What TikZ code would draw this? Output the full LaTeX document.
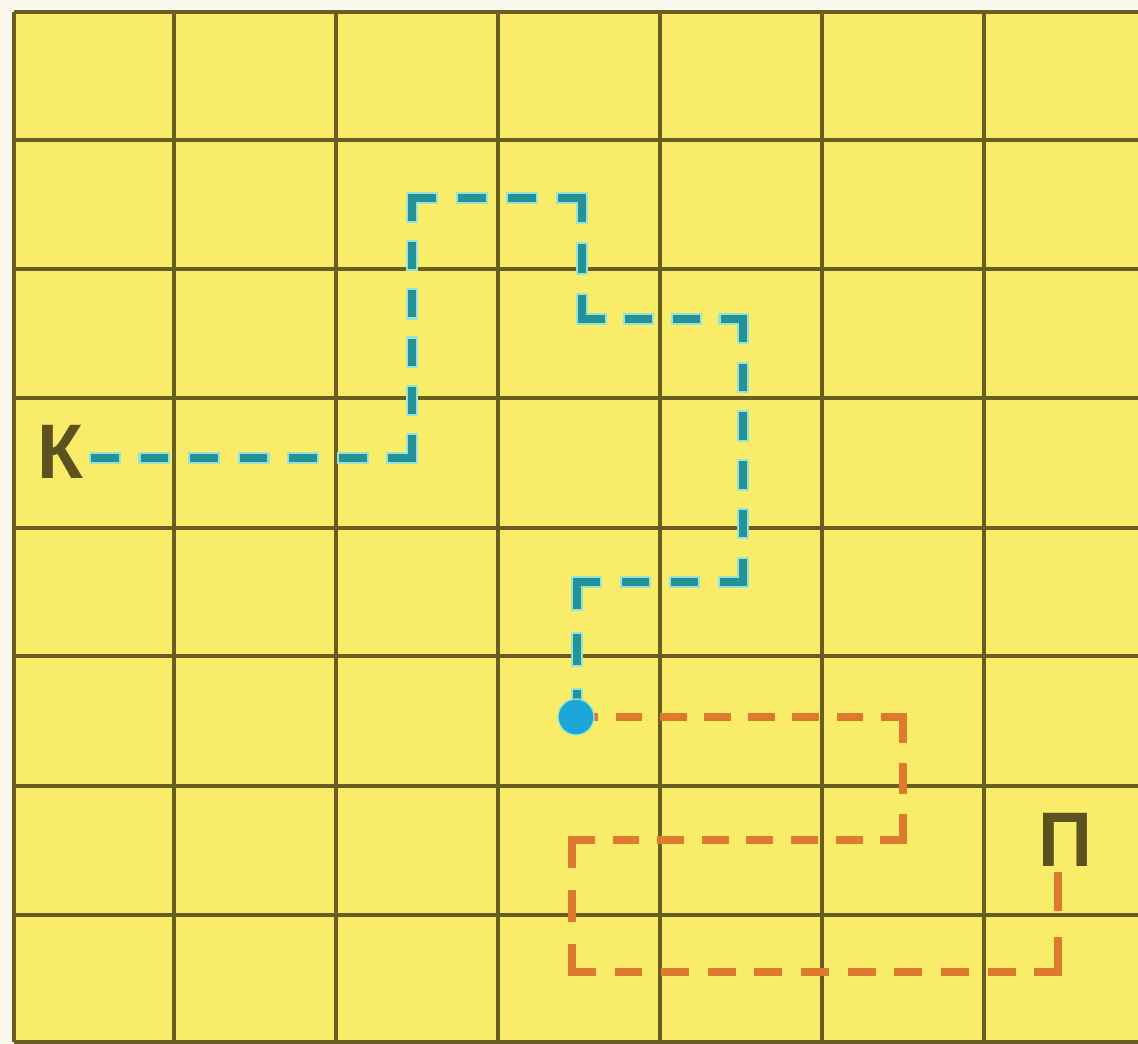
\documentclass[tikz,border=0pt]{standalone}
\usepackage{fontspec}
\setmainfont{Liberation Sans}
\usetikzlibrary{calc}
\definecolor{paper}{RGB}{250,248,236}
\definecolor{cellyellow}{RGB}{249,236,104}
\definecolor{gridolive}{RGB}{104,94,36}
\definecolor{tealdash}{RGB}{36,146,152}
\definecolor{tealhalo}{RGB}{150,228,214}
\definecolor{dotblue}{RGB}{28,165,215}
\definecolor{orangedash}{RGB}{222,122,46}
\definecolor{letterolive}{RGB}{92,82,32}
\tikzset{
  gridline/.style={draw=gridolive, line width=2.7pt},
  bluehalo/.style={draw=tealhalo, line width=9.4pt, line cap=rect},
  bluedash/.style={draw=tealdash, line width=6.2pt, line cap=rect},
  orangedashline/.style={draw=orangedash, line width=6.2pt, line cap=rect},
  letter/.style={inner sep=0pt, text=letterolive, font=\fontsize{58}{58}\selectfont\bfseries, xscale=0.97},
  dotnode/.style={circle, fill=dotblue, draw=tealhalo, line width=1pt, minimum size=27pt, inner sep=0pt}
}
% dashed segment between two named coordinates with k+1 dashes, full dashes at both ends
% #1 style, #2 from, #3 to, #4 k, #5 dash share of the period
\newdimen\segdx \newdimen\segdy
\def\dashw{6.2}
\newcommand\dseg[5]{%
  \pgfextractx{\segdx}{\pgfpointdiff{\pgfpointanchor{#2}{center}}{\pgfpointanchor{#3}{center}}}%
  \pgfextracty{\segdy}{\pgfpointdiff{\pgfpointanchor{#2}{center}}{\pgfpointanchor{#3}{center}}}%
  \pgfmathsetmacro\seglen{veclen(\segdx,\segdy)}%
  \pgfmathsetmacro\segp{(\seglen+\dashw)/(#4+#5)}%
  \pgfmathsetmacro\segon{\segp*#5-\dashw}%
  \pgfmathsetmacro\segoff{\segp-\segon}%
  \draw[#1, dash pattern=on \segon pt off \segoff pt] (#2) -- (#3);
}
\begin{document}
\begin{tikzpicture}[x=0.75pt,y=-0.75pt]
\useasboundingbox (0,0) rectangle (1138,1044);
\fill[paper] (0,0) rectangle (1138,1044);
\fill[cellyellow] (14,12) rectangle (1138,1042);
% grid
\foreach \x in {14,174,336,498,660,822,984} \draw[gridline] (\x,12) -- (\x,1042);
\foreach \y in {12,140,269,398,528,656,786,915,1042} \draw[gridline] (14,\y) -- (1138,\y);
% nodes
\node[letter] (K) at (60,452) {К};
\node[letter] (P) at (1065,840) {П};
\coordinate (dotc) at (576,717);
% blue path corners
\coordinate (b1) at (412,458);
\coordinate (b0) at ($(K.east |- b1)+(12,0)$);
\coordinate (b2) at (412,198);
\coordinate (b3) at (582,198);
\coordinate (b4) at (582,319);
\coordinate (b5) at (743,319);
\coordinate (b6) at (743,582);
\coordinate (b7) at (577,582);
\coordinate (b8) at (577,717);
% orange path corners
\coordinate (o1) at (903,717);
\coordinate (o2) at (903,840);
\coordinate (o3) at (572,840);
\coordinate (o4) at (572,972);
\coordinate (o5) at (1058,972);
\coordinate (o6) at (1058,876);
\foreach \a/\b/\k in {b0/b1/6,b1/b2/5,b2/b3/3,b3/b4/2,b4/b5/3,b5/b6/5,b6/b7/3,b7/b8/2}
  \dseg{bluehalo}{\a}{\b}{\k}{0.56};
\foreach \a/\b/\k in {b0/b1/6,b1/b2/5,b2/b3/3,b3/b4/2,b4/b5/3,b5/b6/5,b6/b7/3,b7/b8/2}
  \dseg{bluedash}{\a}{\b}{\k}{0.56};
\foreach \a/\b/\k in {dotc/o1/7,o1/o2/2,o2/o3/7,o3/o4/2,o4/o5/10,o5/o6/1}
  \dseg{orangedashline}{\a}{\b}{\k}{0.6};
\node[dotnode] (dot) at (dotc) {};
\end{tikzpicture}
\end{document}
